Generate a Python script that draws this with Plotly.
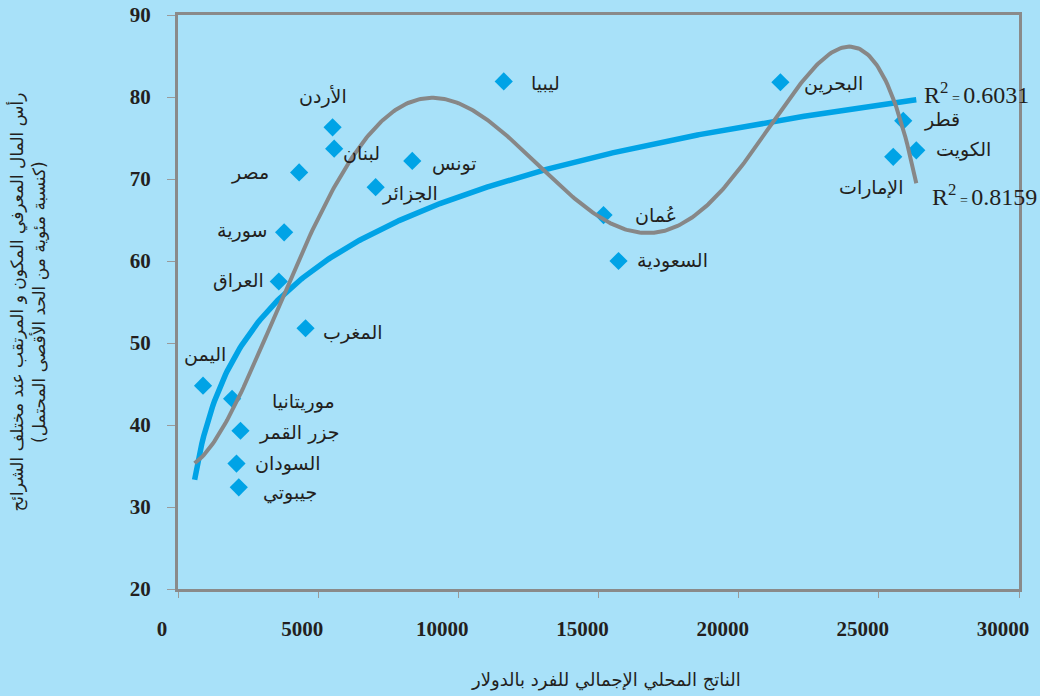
import numpy as np
import plotly.graph_objects as go

# ---------------- data ----------------
countries = ["اليمن", "موريتانيا", "جزر القمر", "السودان", "جيبوتي",
             "العراق", "سورية", "مصر", "المغرب", "الأردن", "لبنان",
             "الجزائر", "تونس", "ليبيا", "عُمان", "السعودية", "البحرين",
             "الإمارات", "قطر", "الكويت"]
gdp_per_capita = [893, 1929, 2229, 2086, 2168,
                  3596, 3786, 4321, 4550, 5514, 5571,
                  7050, 8357, 11620, 15179, 15714, 21489,
                  25514, 25871, 26336]
knowledge_capital = [44.8, 43.2, 39.3, 35.3, 32.4,
                     57.5, 63.5, 70.8, 51.8, 76.3, 73.7,
                     69.0, 72.2, 81.9, 65.6, 60.0, 81.8,
                     72.7, 77.1, 73.5]
r2_labels = ["0.6031", "0.8159"]
x_ticks = [0, 5000, 10000, 15000, 20000, 25000, 30000]
y_ticks = [20, 30, 40, 50, 60, 70, 80, 90]

# label placement (pixel offsets from each marker) -- layout only
label_dx = [2, 71, 59, 52, 51, -40, -42, -49, 47, -10, 27, 34, 42, 42, 52, 54, 53, -22, 39, 47]
label_dy = [-31, 3, 2, 0, 5, -1, -2, 0, 4, -31, 4, 6, 3, 2, 0, -1, 1, 31, -1, -1]

TREND_BACKWARD = 300   # trendline backward forecast (x units)
POLY_DEG = 5

# ---------------- styles ----------------
BG = "#a8e1f9"
BLUE = "#00a3e6"
GRAY = "#878787"
FRAME = "#8a8a8a"
TXT = "#231f20"
AR_FONT = "DejaVu Sans"
NUM_FONT = "Liberation Serif"

x = np.array(gdp_per_capita, dtype=float)
y = np.array(knowledge_capital, dtype=float)

# trendlines fitted from the data
a, b = np.polyfit(np.log(x), y, 1)                     # logarithmic
P = np.polynomial.Polynomial.fit(x, y, POLY_DEG)       # polynomial

xc = np.linspace(x.min() - TREND_BACKWARD, x.max(), 400)
y_log = a * np.log(xc) + b
y_poly = P(xc)

fig = go.Figure()
fig.add_trace(go.Scatter(
    x=x, y=y, mode="markers",
    marker=dict(symbol="diamond", size=14, color=BLUE, line=dict(width=0)),
    hoverinfo="skip", showlegend=False))
fig.add_trace(go.Scatter(
    x=xc, y=y_log, mode="lines", line=dict(color=BLUE, width=5.5),
    hoverinfo="skip", showlegend=False))
fig.add_trace(go.Scatter(
    x=xc, y=y_poly, mode="lines", line=dict(color=GRAY, width=4),
    hoverinfo="skip", showlegend=False))

annotations = []
for name, xv, yv, dx, dy in zip(countries, gdp_per_capita, knowledge_capital, label_dx, label_dy):
    annotations.append(dict(
        x=xv, y=yv, xref="x", yref="y", text=name, showarrow=False,
        xshift=dx, yshift=-dy, font=dict(family=AR_FONT, size=19, color=TXT)))

# R^2 labels next to the end of each trendline
r2_fmt = "R<sup>2</sup><span style='font-size:14px'> = </span>{}"
annotations.append(dict(
    x=xc[-1], y=y_log[-1], xref="x", yref="y", text=r2_fmt.format(r2_labels[0]),
    showarrow=False, xanchor="left", xshift=6, yshift=7,
    font=dict(family=NUM_FONT, size=24, color=TXT)))
annotations.append(dict(
    x=xc[-1], y=y_poly[-1], xref="x", yref="y", text=r2_fmt.format(r2_labels[1]),
    showarrow=False, xanchor="left", xshift=14, yshift=-12,
    font=dict(family=NUM_FONT, size=24, color=TXT)))

# axis titles
annotations.append(dict(
    x=-0.18, y=0.5, xref="paper", yref="paper", textangle=-90,
    text="رأس المال المعرفي المكون و المرتقب عند مختلف الشرائح<br>(كنسبة مئوية من الحد الأقصى المحتمل)",
    showarrow=False, xanchor="center", yanchor="middle",
    font=dict(family=AR_FONT, size=17, color=TXT)))
annotations.append(dict(
    x=0.509, y=-0.158, xref="paper", yref="paper",
    text="الناتج المحلي الإجمالي للفرد بالدولار",
    showarrow=False, xanchor="center", yanchor="middle",
    font=dict(family=AR_FONT, size=18, color=TXT)))

tickfont = dict(family=NUM_FONT, size=21, color=TXT, weight="bold")
fig.update_layout(
    width=1040, height=696,
    margin=dict(l=178, r=21, t=15, b=107, autoexpand=False),
    paper_bgcolor=BG, plot_bgcolor=BG,
    showlegend=False,
    annotations=annotations,
    xaxis=dict(range=[0, 30000], tickvals=x_ticks, ticktext=[str(v) for v in x_ticks],
               showgrid=False, zeroline=False, automargin=False,
               showline=True, linecolor=FRAME, linewidth=3, mirror=True,
               ticks="outside", ticklen=6, tickwidth=1, tickcolor="#9a9a9a",
               ticklabelstandoff=13, ticklabelshift=-16, tickfont=tickfont),
    yaxis=dict(range=[20, 90], tickvals=y_ticks,
               showgrid=False, zeroline=False, automargin=False,
               showline=True, linecolor=FRAME, linewidth=3, mirror=True,
               ticks="outside", ticklen=8, tickwidth=1, tickcolor="#9a9a9a",
               ticklabelstandoff=12, tickfont=tickfont),
)

fig.write_html("out.html", config={"displayModeBar": False},
               post_script="document.body.style.margin='0px';")
